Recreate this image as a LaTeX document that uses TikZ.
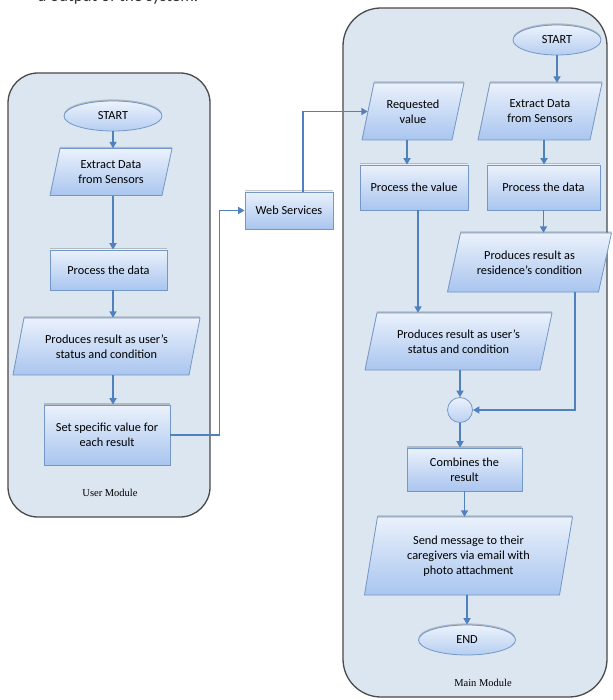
\documentclass[tikz,border=0pt]{standalone}
\usepackage{fontspec}
\setmainfont{Carlito}
\newfontfamily\serifx{Liberation Serif}
\usetikzlibrary{arrows.meta,shapes.geometric,calc,shadows}
\definecolor{contfill}{HTML}{DCE6F1}
\definecolor{contline}{HTML}{4A4A4A}
\definecolor{btop}{HTML}{EAF1FB}
\definecolor{bbot}{HTML}{A9C5EF}
\definecolor{bline}{HTML}{7397C6}
\definecolor{arrc}{HTML}{4F81BD}
\tikzset{
  container/.style={draw=contline, fill=contfill, line width=1.3pt},
  topshadow/.style={drop shadow={shadow xshift=0pt, shadow yshift=1.6pt, opacity=0.35, fill=black!60}},
  boxfill/.style={topshadow, draw=bline, line width=0.8pt, top color=btop, bottom color=bbot},
  txt/.style={align=center, inner sep=1pt, font=\fontsize{12.3}{14.8}\selectfont},
  rbox/.style={boxfill, txt, rectangle},
  ebox/.style={topshadow, draw=bline, line width=0.8pt, top color=btop!90!white, bottom color=bbot!85!white, ellipse, inner sep=0pt, font=\fontsize{12.3}{14.8}\selectfont},
  arr/.style={draw=arrc, line width=1.7pt, -{Triangle[width=7pt,length=6.5pt]}},
  modlabel/.style={font=\serifx\fontsize{10.5}{12}\selectfont, inner sep=0pt}
}
\newcommand{\paranode}[7]{%
  \path[boxfill] ({#2-#4/2-#6/2},{#3+#5/2}) -- ({#2+#4/2-#6/2},{#3+#5/2}) -- ({#2+#4/2+#6/2},{#3-#5/2}) -- ({#2-#4/2+#6/2},{#3-#5/2}) -- cycle;
  \node[txt, minimum width=#4pt, minimum height=#5pt] (#1) at (#2,#3) {#7};}
\begin{document}
\begin{tikzpicture}[x=1pt,y=-1pt]
\useasboundingbox (0,0) rectangle (612,700);
\fill[white] (0,0) rectangle (612,700);
\begin{scope}
\clip (0,0) rectangle (612,700);
\node[anchor=base west, inner sep=0pt, font=\fontsize{17}{20}\selectfont, text=black!80] (caption) at (38,1.5) {a output of the system.};
\end{scope}
% containers
\draw[container, rounded corners=30pt] (8,73) rectangle (210,517);
\draw[container, rounded corners=38pt] (343,8) rectangle (607,697);
\node[modlabel] (umod) at (110,493) {User Module};
\node[modlabel] (mmod) at (483,683) {Main Module};
% user module
\node[ebox, minimum width=98pt, minimum height=30pt] (lstart) at (113,116) {START};
\paranode{lext}{111}{172}{112}{47}{10}{Extract Data\\from Sensors}
\node[rbox, minimum width=117pt, minimum height=40pt] (lproc) at (108.5,270) {Process the data};
\paranode{lprod}{106.5}{346.5}{176}{57}{11}{Produces result as user’s\\status and condition}
\node[rbox, minimum width=126pt, minimum height=60pt] (lset) at (107,435) {Set specific value for\\each result};
% web services
\node[rbox, minimum width=88pt, minimum height=37pt] (web) at (289,210.5) {Web Services};
% main module
\node[ebox, minimum width=88pt, minimum height=30pt] (rstart) at (557,40) {START};
\paranode{req}{413}{111.5}{90}{57}{12}{Requested\\value}
\paranode{rext}{540}{111.5}{112}{57}{12}{Extract Data\\from Sensors}
\node[rbox, minimum width=108pt, minimum height=45pt] (pval) at (414,187.5) {Process the value};
\node[rbox, minimum width=113pt, minimum height=45pt] (rproc) at (543.5,187.5) {Process the data};
\paranode{res}{529.5}{262.5}{151}{59}{13}{Produces result as\\residence’s condition}
\paranode{ruser}{458.5}{341.5}{175}{57}{12}{Produces result as user’s\\status and condition}
\node[draw=bline, line width=0.8pt, top color=btop, bottom color=bbot!80!white, circle, minimum size=25pt, inner sep=0pt] (join) at (460,410) {};
\node[rbox, minimum width=115pt, minimum height=43pt] (comb) at (464.5,469.5) {Combines the\\result};
\paranode{send}{468.5}{556}{195}{78}{13}{Send message to their\\caregivers via email with\\photo attachment}
\node[ebox, minimum width=97pt, minimum height=30pt] (rend) at (467,640) {END};
% connectors user module
\draw[arr] (lstart.south) -- (lstart.south |- lext.north);
\draw[arr] (lstart.south |- lext.south) -- (lstart.south |- lproc.north);
\draw[arr] (lstart.south |- lproc.south) -- (lstart.south |- lprod.north);
\draw[arr] (lstart.south |- lprod.south) -- (lstart.south |- lset.north);
\draw[arr] (lset.east) -- ++(49,0) |- (web.west);
\draw[arr] ([xshift=14pt]web.north) |- (req.west);
% connectors main module
\draw[arr] ([xshift=-6pt]req.south) -- ([xshift=-6pt]req.south |- pval.north);
\draw[arr] ([xshift=4pt]pval.south) -- ([xshift=4pt]pval.south |- ruser.north);
\draw[arr] (rstart.south) -- (rstart.south |- rext.north);
\draw[arr] ([xshift=4pt]rext.south) -- ([xshift=4pt]rext.south |- rproc.north);
\draw[arr] (rproc.south) -- (rproc.south |- res.north);
\draw[arr] ([xshift=45.5pt]res.south) |- (join.east);
\draw[arr] (join.north |- ruser.south) -- (join.north);
\draw[arr] (join.south) -- (join.south |- comb.north);
\draw[arr] (comb.south) -- (comb.south |- send.north);
\draw[arr] (rend.north |- send.south) -- (rend.north);
\end{tikzpicture}
\end{document}
